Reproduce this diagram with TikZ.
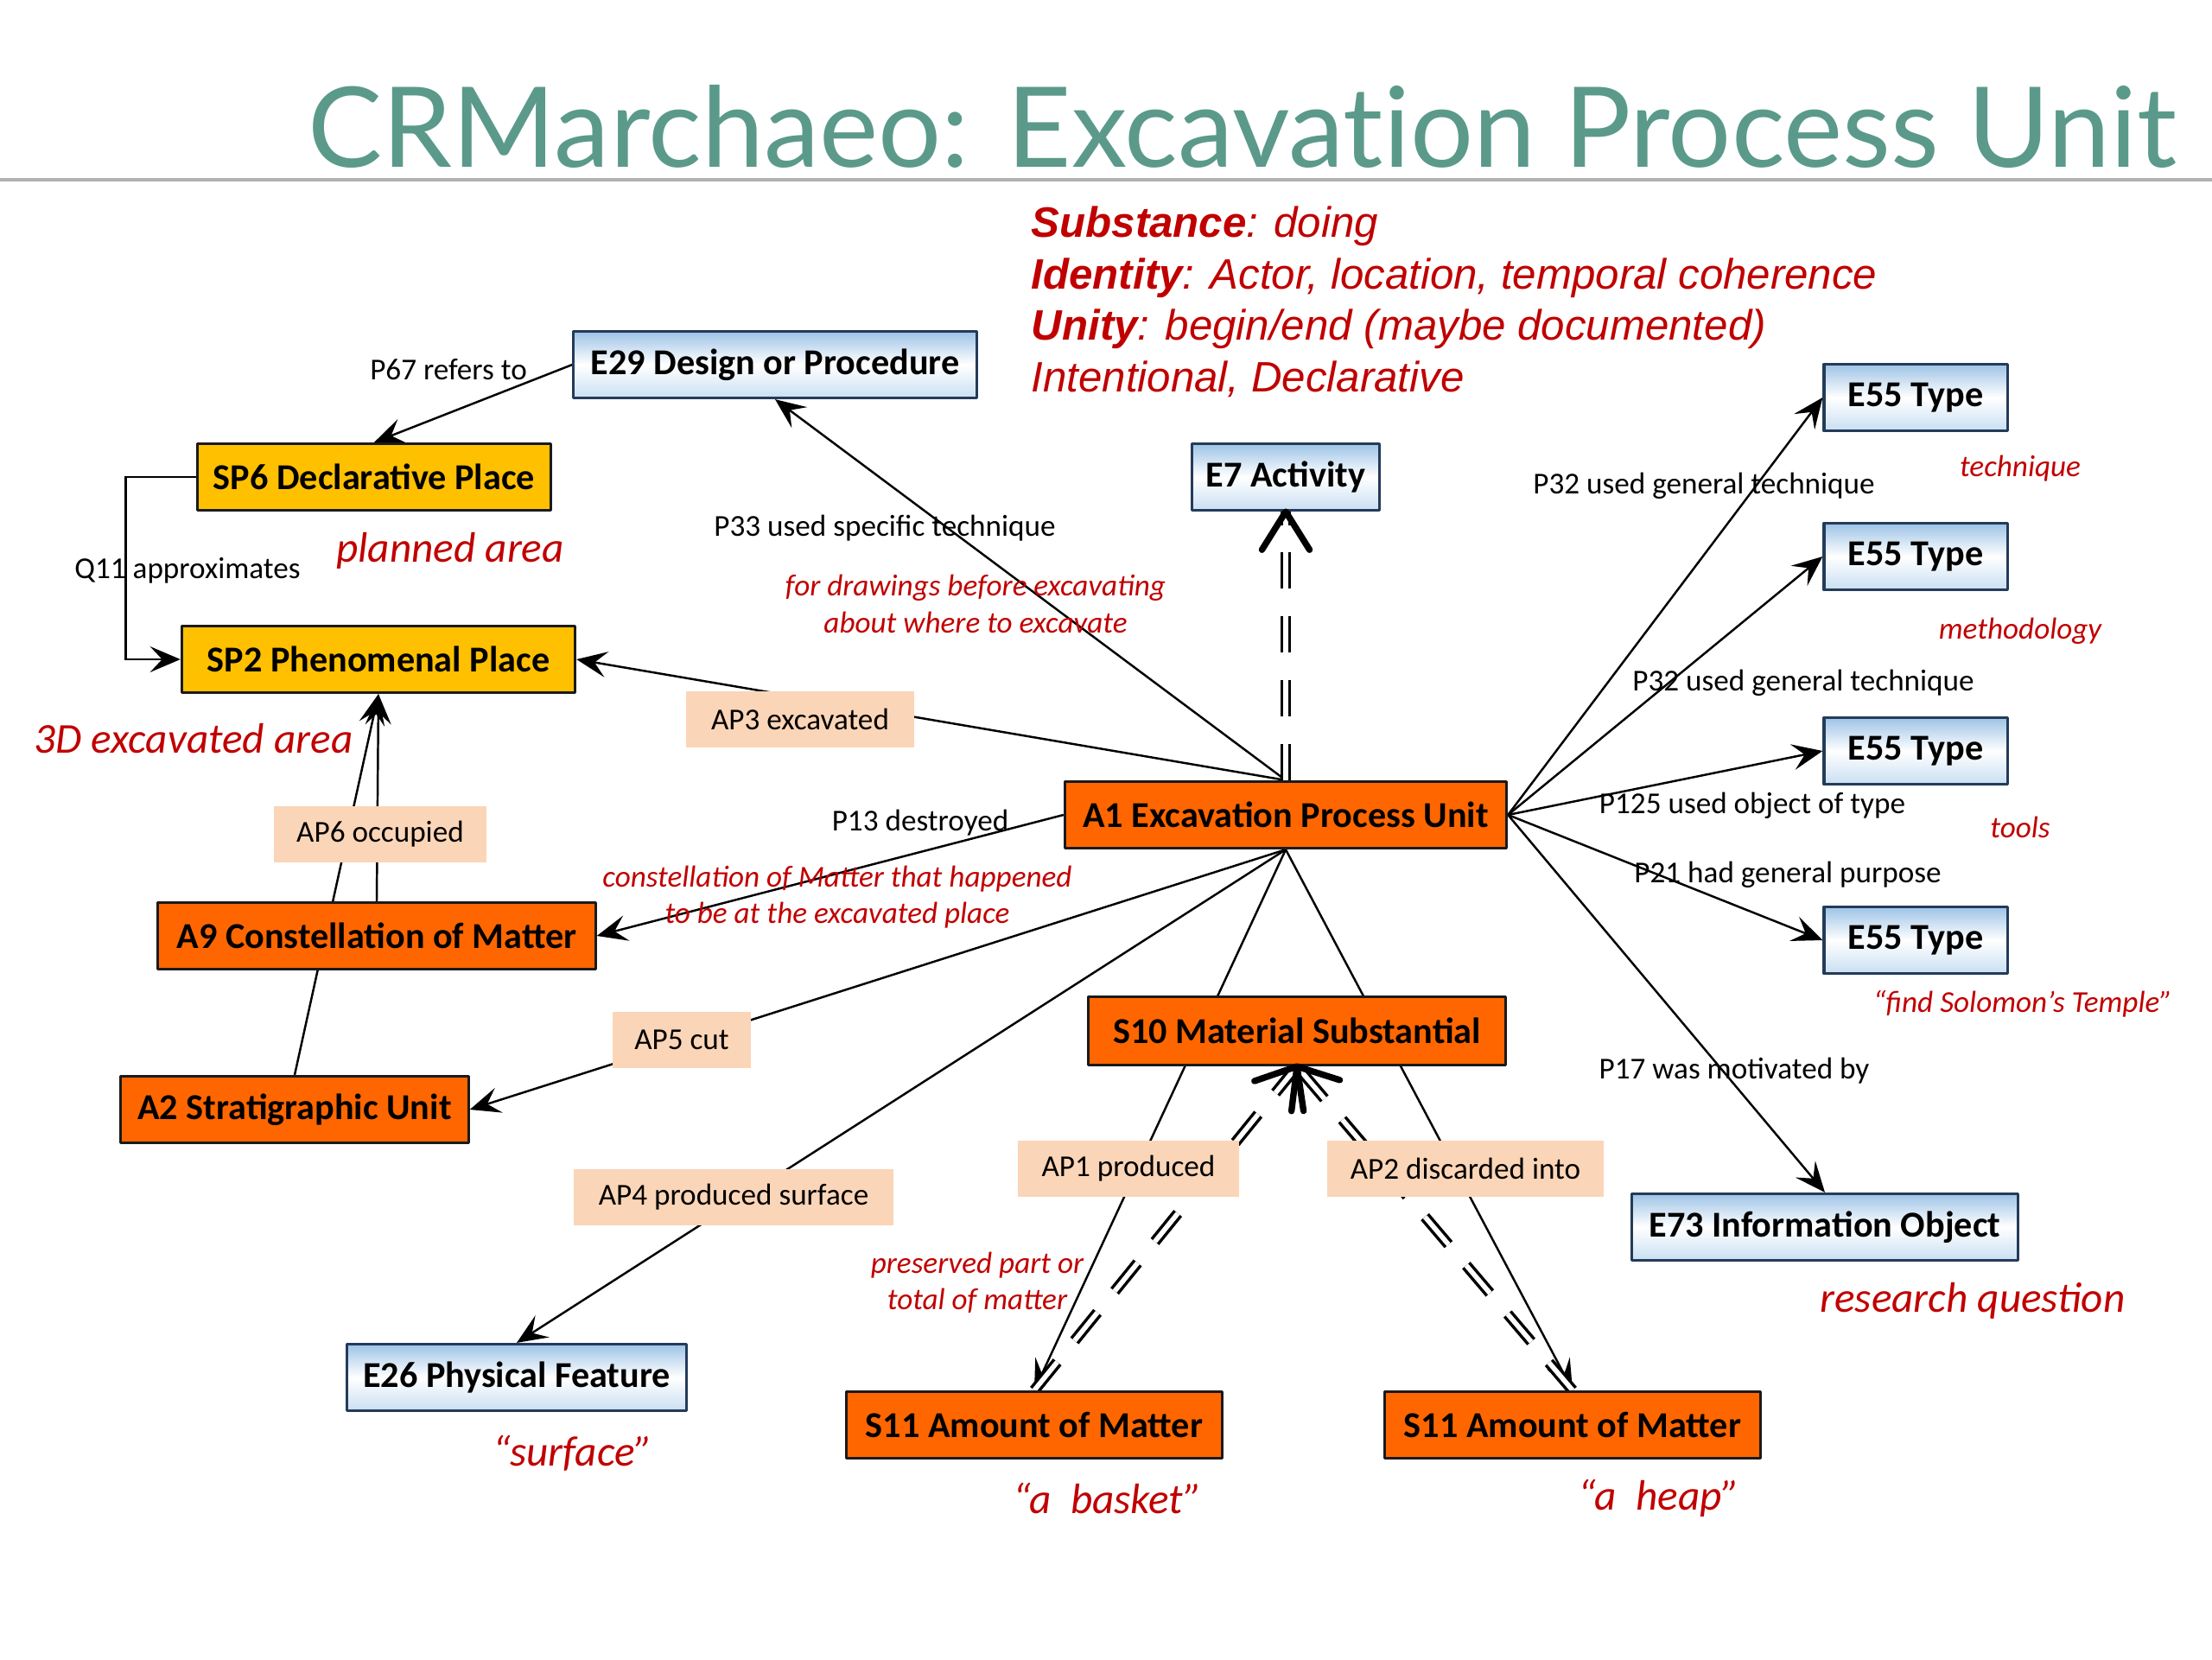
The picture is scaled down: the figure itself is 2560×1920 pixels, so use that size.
\documentclass[tikz,border=0pt]{standalone}
\usepackage{fontspec}
\setmainfont{Carlito}
\newfontfamily\headfont{Liberation Sans}
\newfontfamily\titlefont[Ligatures={NoCommon,NoRequired,NoContextual}]{Lato}
\usetikzlibrary{arrows.meta,calc}
\definecolor{titlecol}{HTML}{5B9A8A}
\definecolor{notered}{HTML}{C00000}
\definecolor{aorange}{HTML}{FF6600}
\definecolor{spyellow}{HTML}{FFC000}
\definecolor{peach}{HTML}{FBD5B7}
\definecolor{eblue}{HTML}{9DC3E6}
\definecolor{eblue2}{HTML}{C9DFF2}
\definecolor{eedge}{HTML}{243B5A}
\definecolor{ink}{HTML}{1A1A1A}
\pgfdeclarelayer{bg}
\pgfsetlayers{bg,main}

\begin{document}
\begin{tikzpicture}[x=0.01cm, y=-0.01cm, line join=round,
  cls/.style={draw=ink, line width=0.9pt, minimum height=0.77cm, inner xsep=0pt,
    font=\fontsize{12}{14}\selectfont\bfseries, text=black},
  ecls/.style={cls, draw=eedge, top color=eblue, bottom color=eblue2, middle color=white},
  acls/.style={cls, fill=aorange},
  spcls/.style={cls, fill=spyellow},
  prop/.style={fill=peach, minimum height=0.65cm, inner xsep=0pt, font=\fontsize{10}{12}\selectfont},
  elab/.style={inner sep=0pt, font=\fontsize{10}{12}\selectfont},
  note/.style={inner sep=0pt, text=notered, align=center, font=\fontsize{10}{12}\selectfont\itshape},
  bignote/.style={note, font=\fontsize{14}{17}\selectfont\itshape},
  rel/.style={line width=0.7pt, -{Stealth[length=10pt,width=8.5pt,inset=4pt]}},
  dline/.style={double, double distance=1.6pt, line width=1pt, dash pattern=on 12pt off 9pt},
  barb/.style={line width=2.1pt, line cap=round}]

\useasboundingbox (0,0) rectangle (2560,1920);

% ---- title ---------------------------------------------------------------
\node[anchor=base west, inner sep=0pt, text=titlecol, font=\titlefont\fontsize{36.7}{40}\selectfont]
  (title) at (356,193) {CRMarchaeo: Excavation Process Unit};
\draw[black!30, line width=1.2pt] (0,208) -- (2560,208);

\node[anchor=north west, align=left, inner sep=0pt, text=notered,
  font=\headfont\fontsize{14}{17}\selectfont\itshape] (head) at (1193,238)
  {\textbf{Substance}: doing\\
   \textbf{Identity}: Actor, location, temporal coherence\\
   \textbf{Unity}: begin/end (maybe documented)\\
   Intentional, Declarative};

% ---- classes -------------------------------------------------------------
\node[ecls, minimum width=4.66cm] (e29) at (897,422) {E29 Design or Procedure};
\node[spcls, minimum width=4.08cm] (sp6) at (433,552) {SP6 Declarative Place};
\node[spcls, minimum width=4.55cm] (sp2) at (438,763) {SP2 Phenomenal Place};
\node[ecls, minimum width=2.17cm] (e7) at (1488,552) {E7 Activity};
\node[ecls, minimum width=2.12cm] (t1) at (2217,460) {E55 Type};
\node[ecls, minimum width=2.12cm] (t2) at (2217,644) {E55 Type};
\node[ecls, minimum width=2.12cm] (t3) at (2217,869) {E55 Type};
\node[ecls, minimum width=2.12cm] (t4) at (2217,1088) {E55 Type};
\node[acls, minimum width=5.11cm] (a1) at (1488,943) {A1 Excavation Process Unit};
\node[acls, minimum width=5.06cm] (a9) at (436,1083) {A9 Constellation of Matter};
\node[acls, minimum width=4.02cm] (a2) at (341,1284) {A2 Stratigraphic Unit};
\node[acls, minimum width=4.82cm, minimum height=0.79cm] (s10) at (1501,1193) {S10 Material Substantial};
\node[ecls, minimum width=4.46cm] (e73) at (2112,1420) {E73 Information Object};
\node[ecls, minimum width=3.93cm] (e26) at (598,1594) {E26 Physical Feature};
\node[acls, minimum width=4.34cm] (s11a) at (1197,1649) {S11 Amount of Matter};
\node[acls, minimum width=4.34cm] (s11b) at (1820,1649) {S11 Amount of Matter};

% ---- property boxes ------------------------------------------------------
\node[prop, minimum width=2.63cm] (ap3) at (926,832) {AP3 excavated};
\node[prop, minimum width=2.46cm] (ap6) at (440,965) {AP6 occupied};
\node[prop, minimum width=1.60cm] (ap5) at (789,1203) {AP5 cut};
\node[prop, minimum width=3.70cm] (ap4) at (849,1385) {AP4 produced surface};
\node[prop, minimum width=2.55cm] (ap1) at (1306,1352) {AP1 produced};
\node[prop, minimum width=3.19cm] (ap2) at (1696,1352) {AP2 discarded into};

% ---- edge labels ---------------------------------------------------------
\node[elab] (l67) at (519,428) {P67 refers to};
\node[elab] (lq11) at (217,660) {Q11 approximates};
\node[elab] (l33) at (1024,611) {P33 used specific technique};
\node[elab] (l13) at (1065,952) {P13 destroyed};
\node[elab] (l32a) at (1972,562) {P32 used general technique};
\node[elab] (l32b) at (2087,790) {P32 used general technique};
\node[elab] (l125) at (2028,932) {P125 used object of type};
\node[elab] (l21) at (2069,1012) {P21 had general purpose};
\node[elab] (l17) at (2007,1239) {P17 was motivated by};

% ---- notes ---------------------------------------------------------------
\node[bignote] (nplan) at (521,637) {planned area};
\node[bignote] (n3d) at (224,855) {3D excavated area};
\node[note] (ndraw) at (1129,699) {for drawings before excavating\\about where to excavate};
\node[note] (ntech) at (2338,542) {technique};
\node[note] (nmeth) at (2338,730) {methodology};
\node[note] (ntool) at (2338,957) {tools};
\node[note] (nsol) at (2341,1162) {“find Solomon’s Temple”};
\node[note] (ncons) at (969,1038) {constellation of Matter that happened\\to be at the excavated place};
\node[note] (npres) at (1131,1484) {preserved part or\\total of matter};
\node[bignote] (nres) at (2283,1505) {research question};
\node[bignote] (nsurf) at (663,1682) {“surface”};
\node[bignote] (nbask) at (1282,1734) {“a~~basket”};
\node[bignote] (nheap) at (1920,1734) {“a~~heap”};

% ---- connectors ----------------------------------------------------------
\begin{pgfonlayer}{bg}
\draw[rel] (e29.west) -- (sp6.north);
\draw[rel] (sp6.west) -- ++(-82,0) |- (sp2.west);
\draw[rel] (a1.north) -- (e29.south);
\draw[rel] (a1.north) -- (sp2.east);
\draw[rel] (a2.north) -- (sp2.south);
\draw[rel] (a9.north) -- (sp2.south);
\draw[rel] (a1.west) -- (a9.east);
\draw[rel] (a1.south) -- (a2.east);
\draw[rel] (a1.south) -- (e26.north);
\draw[rel] (a1.south) -- (s11a.north);
\draw[rel] (a1.south) -- (s11b.north);
\foreach \t in {t1,t2,t3,t4}
  \draw[rel] (a1.east) -- (\t.west);
\draw[rel] (a1.east) -- (e73.north);

% double dashed: is a kind of
\draw[dline] (a1.north) -- (e7.south);
\draw[dline] (s11a.north) -- (s10.south);
\draw[dline] (s11b.north) -- (s10.south);
\end{pgfonlayer}

\draw[barb] ($(e7.south)!0.52cm!32:(a1.north)$) -- (e7.south) -- ($(e7.south)!0.52cm!-32:(a1.north)$);
\draw[barb] ($(s10.south)!0.52cm!32:(s11a.north)$) -- (s10.south) -- ($(s10.south)!0.52cm!-32:(s11a.north)$);
\draw[barb] ($(s10.south)!0.52cm!32:(s11b.north)$) -- (s10.south) -- ($(s10.south)!0.52cm!-32:(s11b.north)$);

\end{tikzpicture}
\end{document}
